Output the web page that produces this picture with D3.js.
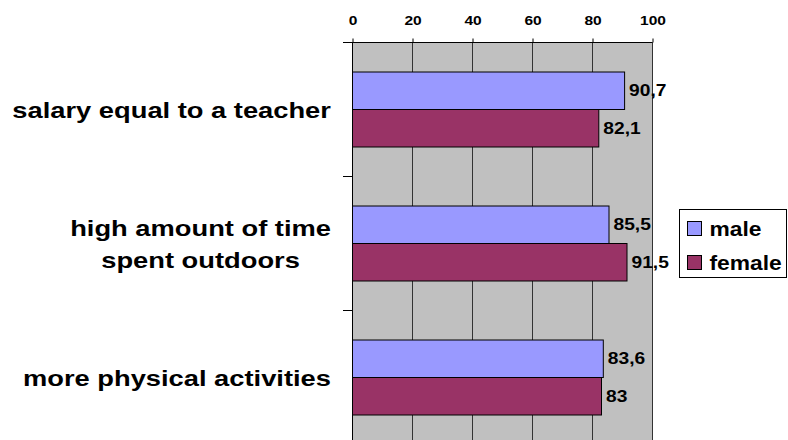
<!DOCTYPE html>
<html>
<head>
<meta charset="utf-8">
<script src="https://cdn.jsdelivr.net/npm/d3@7"></script>
<style>
  body { margin: 0; background: #fff; }
  svg { display: block; font-family: Arial, "Liberation Sans", sans-serif; font-weight: bold; }
</style>
</head>
<body>
<div id="chart"></div>
<script>
// categories top to bottom, each label split into its lines
const categories = ["salary equal to a teacher", "high amount of time spent outdoors", "more physical activities"];
const categoryLines = [["salary equal to a teacher"], ["high amount of time", "spent outdoors"], ["more physical activities"]];
const series = ["male", "female"];
const maleValues = [90.7, 85.5, 83.6];
const femaleValues = [82.1, 91.5, 83];
const valueLabels = [["90,7", "82,1"], ["85,5", "91,5"], ["83,6", "83"]];
const xTicks = [0, 20, 40, 60, 80, 100];
const colors = ["#9999ff", "#993366"];

const width = 788, height = 440;
const plotLeft = 352, plotRight = 652, plotTop = 42, plotBottom = 444;
// the reference text is rendered wide, so glyphs get a horizontal stretch
const stretch = 1.2;

const svg = d3.select("#chart").append("svg")
    .attr("width", width)
    .attr("height", height);

const x = d3.scaleLinear().domain([0, 100]).range([plotLeft, plotRight]);
const y0 = d3.scaleBand().domain(categories).range([plotTop, plotBottom]);
const y1 = d3.scaleBand().domain(series).range([0, y0.bandwidth()]).paddingOuter(0.787);

// plot background
svg.append("rect")
    .attr("x", plotLeft).attr("y", plotTop)
    .attr("width", plotRight - plotLeft).attr("height", plotBottom - plotTop)
    .attr("fill", "#c0c0c0");

// vertical gridlines
svg.append("g")
    .selectAll("line")
    .data(xTicks.slice(1))
    .join("line")
    .attr("x1", d => x(d) + 0.5).attr("x2", d => x(d) + 0.5)
    .attr("y1", plotTop).attr("y2", plotBottom)
    .attr("stroke", "#333")
    .attr("stroke-width", 1);

// top axis
const xAxis = svg.append("g")
    .attr("transform", `translate(0.5,${plotTop + 0.5})`)
    .call(d3.axisTop(x).tickValues(xTicks).tickSize(4).tickPadding(14).tickFormat(d3.format("d")));
xAxis.select(".domain").remove();
xAxis.selectAll(".tick line").attr("stroke", "#000");
xAxis.selectAll("text")
    .attr("font-size", 13.5)
    .attr("font-family", "Arial, 'Liberation Sans', sans-serif")
    .attr("font-weight", "bold")
    .attr("fill", "#000")
    .attr("transform", "scale(1.15,1)");
svg.append("line")
    .attr("x1", plotLeft - 9).attr("x2", plotRight)
    .attr("y1", plotTop + 0.5).attr("y2", plotTop + 0.5)
    .attr("stroke", "#000");

// left axis with ticks between categories
svg.append("line")
    .attr("x1", plotLeft + 0.5).attr("x2", plotLeft + 0.5)
    .attr("y1", plotTop).attr("y2", plotBottom)
    .attr("stroke", "#000");
svg.append("g")
    .selectAll("line")
    .data(categories.slice(1))
    .join("line")
    .attr("x1", plotLeft - 9).attr("x2", plotLeft)
    .attr("y1", d => Math.round(y0(d)) + 0.5).attr("y2", d => Math.round(y0(d)) + 0.5)
    .attr("stroke", "#000");

// bars
const rows = categories.map((c, i) => ({
    cat: c,
    values: [maleValues[i], femaleValues[i]],
    labels: valueLabels[i],
    lines: categoryLines[i],
}));

const group = svg.append("g")
    .selectAll("g")
    .data(rows)
    .join("g")
    .attr("transform", d => `translate(0,${y0(d.cat)})`);

group.selectAll("rect")
    .data(d => d.values.map((v, j) => ({ key: series[j], v, label: d.labels[j], j })))
    .join("rect")
    .attr("x", plotLeft + 0.5)
    .attr("y", d => y1(d.key) + 0.5)
    .attr("width", d => x(d.v) - plotLeft)
    .attr("height", y1.bandwidth())
    .attr("fill", d => colors[d.j])
    .attr("stroke", "#000")
    .attr("stroke-width", 1);

group.selectAll("text.value")
    .data(d => d.values.map((v, j) => ({ key: series[j], v, label: d.labels[j] })))
    .join("text")
    .attr("class", "value")
    .attr("transform", d => `translate(${x(d.v) + 5},${y1(d.key) + y1.bandwidth() / 2}) scale(${stretch},1)`)
    .attr("dy", "0.38em")
    .attr("font-size", 16)
    .attr("fill", "#000")
    .text(d => d.label);

// category labels, lines centred within a right-aligned block
const labelRight = 331;
const labelStretch = 1.27;
const lineH = 33;
group.each(function (d) {
    const g = d3.select(this);
    const cy = y0.bandwidth() / 2;
    const t = g.append("text")
        .attr("font-size", 21.5)
        .attr("fill", "#000")
        .attr("text-anchor", "middle");
    d.lines.forEach((line, k) => {
        t.append("tspan")
            .attr("x", 0)
            .attr("y", (k - (d.lines.length - 1) / 2) * lineH + 9)
            .text(line);
    });
    const widths = [];
    t.selectAll("tspan").each(function () { widths.push(this.getComputedTextLength()); });
    const blockW = d3.max(widths) * labelStretch;
    t.attr("transform", `translate(${labelRight - blockW / 2},${cy}) scale(${labelStretch},1)`);
});

// legend
const legend = svg.append("g").attr("transform", "translate(679.5,209.5)");
legend.append("rect")
    .attr("width", 107).attr("height", 68)
    .attr("fill", "#fff")
    .attr("stroke", "#000");
legend.selectAll("g")
    .data(series)
    .join("g")
    .attr("transform", (d, i) => `translate(8,${12 + i * 34})`)
    .call(g => {
        g.append("rect")
            .attr("width", 14).attr("height", 14)
            .attr("fill", (d, i) => colors[i])
            .attr("stroke", "#000");
        g.append("text")
            .attr("transform", "translate(22,7) scale(1.17,1)")
            .attr("dy", "0.36em")
            .attr("font-size", 19.5)
            .attr("fill", "#000")
            .text(d => d);
    });
</script>
</body>
</html>
